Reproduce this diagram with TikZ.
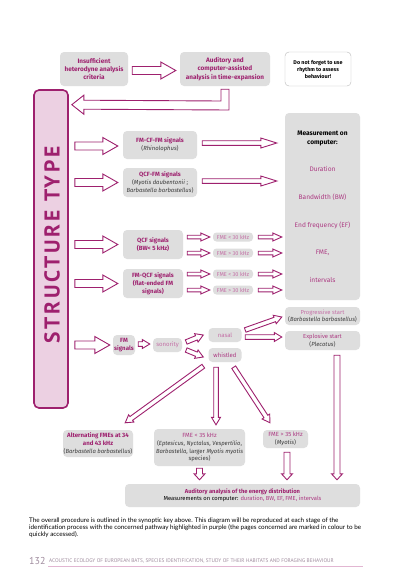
\documentclass[tikz,border=0pt]{standalone}
\usepackage{fontspec}
\setmainfont{Fira Sans}
\newfontfamily\capfont{Lato}
\newfontfamily\ptfont{PT Sans}
\usetikzlibrary{calc}

\definecolor{purp}{RGB}{158,32,110}
\definecolor{midpurp}{RGB}{172,58,130}
\definecolor{lightpurp}{RGB}{196,112,166}
\definecolor{boxgray}{RGB}{222,222,222}
\definecolor{barpink}{RGB}{236,208,226}
\definecolor{spgray}{RGB}{60,60,60}
\definecolor{footgray}{RGB}{160,140,158}
\definecolor{linepink}{RGB}{226,182,210}

\newcommand{\spec}[1]{{\fontsize{5.9}{8}\selectfont\mdseries\color{spgray}#1}}
\newcommand{\mhead}[1]{\textcolor{black}{\bfseries #1}}

\begin{document}
\begin{tikzpicture}[x=1pt, y=-1pt,
    box/.style={fill=boxgray, rounded corners=4pt, align=center, inner sep=0pt, text=purp, font=\fontsize{6.1}{7.8}\selectfont\bfseries},
    lbox/.style={box, rounded corners=4pt, text=midpurp, font=\fontsize{6}{7.8}\selectfont},
    fmebox/.style={box, rounded corners=3.5pt, text=lightpurp, font=\fontsize{5.6}{6}\selectfont, minimum width=40pt, minimum height=9pt},
    note/.style={draw=gray!55, fill=white, rounded corners=4pt, align=center, inner sep=0pt, font=\fontsize{5.4}{7}\selectfont\bfseries},
    arrowline/.style={draw=purp, fill=white, line width=0.9pt},
    fat/.style n args={3}{to path={let \p1=(\tikztostart), \p2=(\tikztotarget), \p3=($(\p2)!#3!(\p1)$) in
        ($(\p1)!#1!90:(\p2)$) -- ($(\p3)!#1!90:(\p2)$) -- ($(\p3)!#2!90:(\p2)$) -- (\p2)
        -- ($(\p3)!#2!-90:(\p2)$) -- ($(\p3)!#1!-90:(\p2)$) -- ($(\p1)!#1!-90:(\p2)$) -- cycle}},
    bigarrow/.style={arrowline, fat={4pt}{8.5pt}{15pt}},
    longarrow/.style={arrowline, fat={2.3pt}{5pt}{16pt}},
    midarrow/.style={arrowline, fat={2.3pt}{4.5pt}{7.5pt}},
    smallarrow/.style={arrowline, fat={1.8pt}{4pt}{9pt}},
    downarrow/.style={arrowline, fat={3pt}{5.5pt}{6pt}}
]

\fill[white] (0,0) rectangle (400,582);
\useasboundingbox (0,0) rectangle (400,582);

% Top row
\node[box, font=\fontsize{6.4}{8.3}\selectfont\bfseries, minimum width=68pt, minimum height=34pt] (insuf) at (94,69) {Insufficient\\heterodyne analysis\\criteria};
\node[box, font=\fontsize{6.4}{8.3}\selectfont\bfseries, minimum width=90pt, minimum height=34pt] (audit) at (225,69) {Auditory and\\computer-assisted\\analysis in time-expansion};
\node[note, minimum width=66pt, minimum height=34pt] (rhythm) at (318,69) {Do not forget to use\\rhythm to assess\\behaviour!};

\draw[bigarrow] ($(insuf.east)+(4,1.5)$) to ($(audit.west)+(-4,1.5)$);

% Structure type bar
\node[draw=purp, line width=1.6pt, fill=barpink, rounded corners=5pt, minimum width=34pt, minimum height=318pt] (bar) at (51,249) {};
\node[rotate=90, text=purp, font=\ptfont\fontsize{21.5}{21.5}\selectfont\bfseries\addfontfeature{LetterSpace=13}] (stype) at (52,245) {STRUCTURE TYPE};

% Elbow arrow back to the bar
\coordinate (elbcorner) at (225,105.5);
\coordinate (elbtip) at ($(bar.north east)+(3,15.5)$);
\draw[arrowline] ($(audit.south)+(-4,3)$) -- ($(audit.south)+(4,3)$) -- ($(elbcorner)+(4,4.5)$)
    -- ($(elbtip)+(12,4.5)$) -- ($(elbtip)+(12,9.5)$) -- (elbtip) -- ($(elbtip)+(12,-9.5)$)
    -- ($(elbtip)+(12,-4.5)$) -- ($(elbcorner)+(-4,-4.5)$) -- cycle;

% Signal types
\node[box, minimum width=74pt, minimum height=28pt] (fmcffm) at (160,145) {FM-CF-FM signals\\\spec{(\textit{Rhinolophus})}};
\node[box, minimum width=74pt, minimum height=29pt] (qcffm) at (160,182.5) {QCF-FM signals\\\spec{(\textit{Myotis daubentonii} ;}\\\spec{\textit{Barbastella barbastellus})}};
\node[box, minimum width=60pt, minimum height=29pt] (qcf) at (153,244.5) {QCF signals\\(BW< 5 kHz)};
\node[box, minimum width=60pt, minimum height=29pt] (fmqcf) at (153,283.5) {FM-QCF signals\\(flat-ended FM\\signals)};
\node[box, minimum width=22pt, minimum height=20pt] (fmsig) at (124,345) {FM\\signals};

\draw[bigarrow] ($(bar.east |- fmcffm.west)+(6,1)$) to ($(fmcffm.west)+(-5,1)$);
\draw[bigarrow] ($(bar.east |- qcffm.west)+(6,0)$) to ($(qcffm.west)+(-5,0)$);
\draw[bigarrow] ($(bar.east |- qcf.west)+(6,0)$) to ($(qcf.west)+(-5,0)$);
\draw[bigarrow] ($(bar.east |- fmqcf.west)+(6,0)$) to ($(fmqcf.west)+(-5,0)$);
\draw[bigarrow] ($(bar.east |- fmsig.west)+(6,0)$) to ($(fmsig.west)+(-3,0)$);

% Measurement on computer
\node[box, minimum width=75pt, minimum height=187pt, text=midpurp, font=\fontsize{6.6}{9}\selectfont] (meas) at (322.5,206.5)
    {\mhead{Measurement on}\\\mhead{computer:}\\[18pt]Duration\\[19pt]Bandwidth (BW)\\[19pt]End frequency (EF)\\[18pt]FME,\\[19pt]intervals};

\draw[longarrow] ($(fmcffm.east)+(5,-2)$) to ($(meas.west |- fmcffm.east)+(-8,-2)$);
\draw[longarrow] ($(qcffm.east)+(5,-1.5)$) to ($(meas.west |- qcffm.east)+(-8,-1.5)$);

% FME thresholds
\node[fmebox] (fme1) at (233,237) {FME < 30 kHz};
\node[fmebox] (fme2) at (233,253) {FME > 30 kHz};
\node[fmebox] (fme3) at (233,274) {FME < 30 kHz};
\node[fmebox] (fme4) at (233,290) {FME > 30 kHz};

\draw[smallarrow] ($(qcf.east |- fme1)+(4,0)$) to ($(fme1.west)+(-3,0)$);
\draw[smallarrow] ($(qcf.east |- fme2)+(4,0)$) to ($(fme2.west)+(-3,0)$);
\draw[smallarrow] ($(fmqcf.east |- fme3)+(4,0)$) to ($(fme3.west)+(-3,0)$);
\draw[smallarrow] ($(fmqcf.east |- fme4)+(4,0)$) to ($(fme4.west)+(-3,0)$);
\draw[smallarrow] ($(fme1.east)+(5,0)$) to ($(meas.west |- fme1)+(-3,0)$);
\draw[smallarrow] ($(fme2.east)+(5,0)$) to ($(meas.west |- fme2)+(-3,0)$);
\draw[smallarrow] ($(fme3.east)+(5,0)$) to ($(meas.west |- fme3)+(-3,0)$);
\draw[smallarrow] ($(fme4.east)+(5,0)$) to ($(meas.west |- fme4)+(-3,0)$);

% FM branch
\node[lbox, text=lightpurp, minimum width=29pt, minimum height=14pt] (sonor) at (167.5,345) {sonority};
\node[lbox, text=lightpurp, minimum width=33pt, minimum height=14pt] (nasal) at (225,335) {nasal};
\node[lbox, minimum width=33pt, minimum height=14pt] (whist) at (225,355) {whistled};
\node[lbox, text=lightpurp, font=\fontsize{5.8}{7.5}\selectfont, minimum width=75pt, minimum height=18pt] (prog) at (322.5,316) {Progressive start\\\spec{(\textit{Barbastella barbastellus})}};
\node[lbox, font=\fontsize{5.8}{7.5}\selectfont, minimum width=75pt, minimum height=19pt] (explo) at (322.5,340.5) {Explosive start\\\spec{(\textit{Plecotus})}};

\draw[midarrow] ($(fmsig.east)+(3,-1)$) to ($(sonor.west)+(-3,-1)$);
\draw[midarrow] ($(sonor.east)+(4,-3)$) to ($(nasal.west)+(-5,0)$);
\draw[midarrow] ($(sonor.east)+(4,5)$) to ($(whist.west)+(-5,2)$);
\draw[midarrow] ($(nasal.east)+(3.5,-5)$) to ($(prog.west)+(-3,1)$);
\draw[midarrow] ($(nasal.east)+(3.5,2)$) to ($(explo.west)+(-3,-3.5)$);

% Whistled outcomes
\node[box, minimum width=70pt, minimum height=27pt] (alt) at (98,443.5) {Alternating FMEs at 34\\and 43 kHz\\\spec{(\textit{Barbastella barbastellus})}};
\node[lbox, minimum width=91pt, minimum height=37pt] (fmelt) at (199.5,447.5) {FME < 35 kHz\\\spec{(\textit{Eptesicus}, \textit{Nyctalus}, \textit{Vespertilio},}\\\spec{\textit{Barbastella}, larger \textit{Myotis myotis}}\\\spec{species)}};
\node[lbox, minimum width=45pt, minimum height=18pt] (fmegt) at (285.5,439) {FME > 35 kHz\\\spec{(\textit{Myotis})}};

\draw[midarrow] ($(whist.south west)+(-5,4)$) to ($(alt.north east)+(-8,-7)$);
\draw[midarrow] ($(whist.south)+(-9,5)$) to ($(whist.south |- fmelt.north)+(-9,-4)$);
\draw[midarrow] ($(whist.south east)+(-8,5)$) to ($(fmegt.north)+(-15.5,-7)$);

% Energy distribution
\node[lbox, minimum width=235pt, minimum height=23pt, font=\fontsize{5.8}{7.5}\selectfont] (energy) at (242.5,495.5)
    {\textcolor{purp}{\bfseries Auditory analysis of the energy distribution}\\\textcolor{black}{Measurements on computer:} duration, BW, EF, FME, intervals};

\draw[downarrow] ($(fmelt.south)+(0,2)$) to ($(energy.north -| fmelt.south)+(0,-4)$);
\draw[downarrow] ($(fmegt.south)+(1.5,4)$) to ($(energy.north -| fmegt.south)+(1.5,-4)$);
\draw[downarrow] ($(explo.south)+(14.5,5)$) to ($(energy.north -| explo.south)+(14.5,-4)$);

% Caption and footer
\node[anchor=north west, align=left, inner sep=0pt, font=\capfont\fontsize{6.3}{7}\selectfont] (caption) at (29,518)
    {The overall procedure is outlined in the synoptic key above. This diagram will be reproduced at each stage of the\\
     identification process with the concerned pathway highlighted in purple (the pages concerned are marked in colour to be\\
     quickly accessed).};
\node[anchor=west, inner sep=0pt, text=footgray, font=\ptfont\fontsize{10}{10}\selectfont] (pnum) at (29,561) {132};
\node[anchor=west, inner sep=0pt, text=footgray, font=\ptfont\fontsize{5.3}{6}\selectfont] (ftext) at (49,561) {ACOUSTIC ECOLOGY OF EUROPEAN BATS, SPECIES IDENTIFICATION, STUDY OF THEIR HABITATS AND FORAGING BEHAVIOUR};
\draw[linepink, line width=0.8pt] ($(ftext.west)+(-1,5)$) -- ++(315,0);

\end{tikzpicture}
\end{document}
